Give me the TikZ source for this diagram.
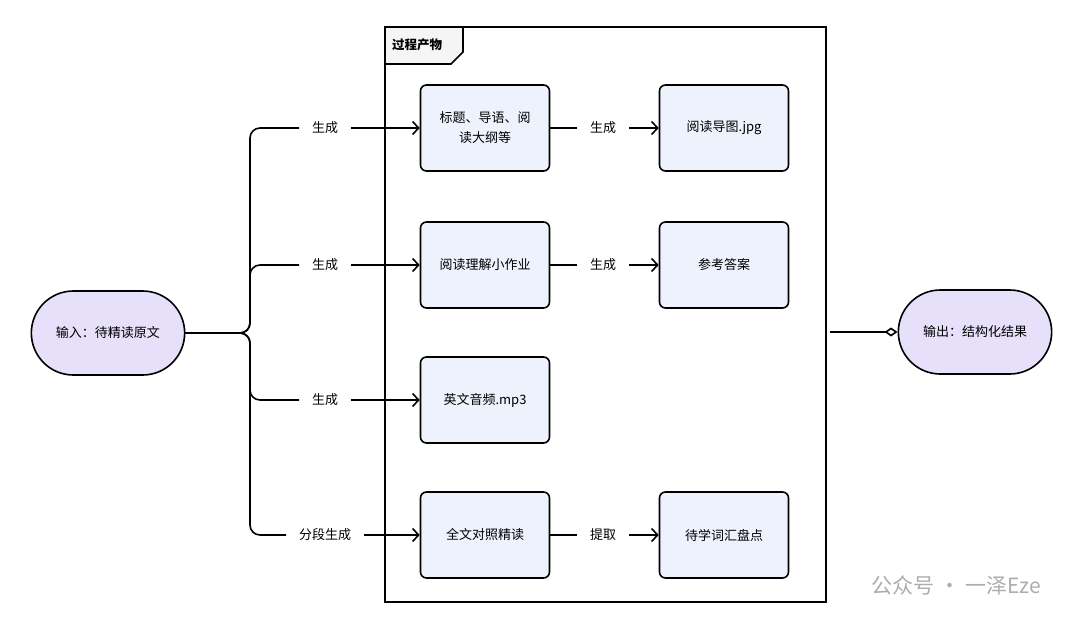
\documentclass[tikz,border=0pt]{standalone}
\usepackage{fontspec}
\setmainfont{Noto Sans CJK SC}
\usetikzlibrary{arrows.meta,shapes.misc}
\definecolor{boxf}{HTML}{EEF2FC}
\definecolor{term}{HTML}{E6E0FA}
\begin{document}
\begin{tikzpicture}[x=1pt,y=-1pt,font=\fontsize{13pt}{20pt}\selectfont,
  line width=1.6pt,
  box/.style={draw,rounded corners=6pt,fill=boxf,minimum width=129pt,minimum height=86pt,align=center,text width=112pt,line width=1.6pt},
  term/.style={draw,rounded rectangle,fill=term,minimum width=160pt,minimum height=84pt,line width=1.6pt},
  lab/.style={inner sep=0pt,minimum width=50pt},
  arr/.style={-{Straight Barb[length=6pt,width=13pt,line width=1.6pt]}}]
\useasboundingbox (0,0) rectangle (1080,630);
\node[term] (in) at (108,333) {输入：待精读原文};
\node[term] (out) at (975,332) {输出：结构化结果};
\draw[line width=1.8pt] (385,27) rectangle (826,602);
\draw[line width=1.6pt,fill=gray!8] (385,27) -- (463,27) -- (463,52) -- (451,64) -- (385,64) -- cycle;
\node[font=\fontsize{12.5pt}{14pt}\selectfont\bfseries,anchor=west] (fl) at (388,45) {过程产物};
\node[box] (a1) at (485,128) {标题、导语、阅\\读大纲等};
\node[box] (a2) at (485,265) {阅读理解小作业};
\node[box] (a3) at (485,400) {英文音频.mp3};
\node[box] (a4) at (485,535) {全文对照精读};
\node[box] (b1) at (724,128) {阅读导图.jpg};
\node[box] (b2) at (724,265) {参考答案};
\node[box] (b4) at (724,535) {待学词汇盘点};
\node[lab] (l1) at (325,128) {生成};
\node[lab] (l2) at (325,265) {生成};
\node[lab] (l3) at (325,400) {生成};
\node[lab,minimum width=76pt] (l4) at (325,535) {分段生成};
\node[lab] (m1) at (603,128) {生成};
\node[lab] (m2) at (603,265) {生成};
\node[lab] (m4) at (603,535) {提取};
\coordinate (j) at (240,333);
\draw (in.east) -- (j);
\draw[rounded corners=10pt] (j) -- (250,333) -- (250,128) -- (l1.west);
\draw[rounded corners=10pt] (j) -- (250,333) -- (250,265) -- (l2.west);
\draw[rounded corners=10pt] (j) -- (250,333) -- (250,400) -- (l3.west);
\draw[rounded corners=10pt] (j) -- (250,333) -- (250,535) -- (l4.west);
\foreach \l/\b in {l1/a1,l2/a2,l3/a3,l4/a4,m1/b1,m2/b2,m4/b4}{\draw[arr] (\l.east) -- (\b.west);}
\foreach \a/\l in {a1/m1,a2/m2,a4/m4}{\draw (\a.east) -- (\l.west);}
\coordinate (oc) at (830,332);
\draw[-{Diamond[open,length=13pt,width=9pt,line width=1.6pt]}] (oc) -- (out.west);
\node[text=gray!65,font=\fontsize{21pt}{24pt}\selectfont,anchor=east] (wm) at (1045,585) {公众号 · 一泽Eze};
\end{tikzpicture}
\end{document}
